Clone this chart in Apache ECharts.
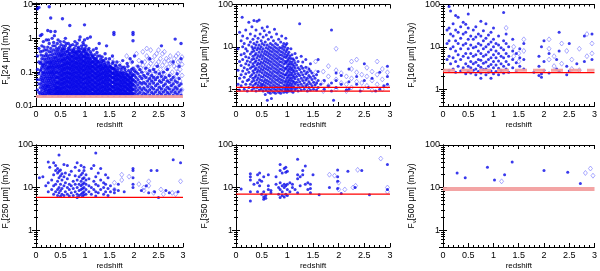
<!DOCTYPE html>
<html><head><meta charset="utf-8">
<script src="https://cdn.jsdelivr.net/npm/echarts@6/dist/echarts.min.js"></script>
<style>html,body{margin:0;padding:0;background:#fff}#c{width:600px;height:271px}</style>
</head><body><div id="c"></div>
<script>
// ---------- data (columns: first value = redshift, following values = flux in mJy) ----------
const bands = ['24', '100', '160', '250', '350', '500'];
const yMin = [0.01, 0.4, 0.4, 0.4, 0.4, 0.4];
const yMax = [11, 100, 100, 100, 100, 100];
const zRange = [0, 3];
const redLimits = [[], [0.9, 1.1], [2.45], [5.9], [7.0], []];
const pinkLimits = [[0.019], [], [2.8], [], [], [9.3]];

const f24Dots = [
[0.03,0.03,0.06,0.12,0.3,7.5],[0.06,0.025,0.045,0.09,0.2,0.5,8.2],[0.09,0.022,0.035,0.06,0.11,0.18,0.4,1.2],
[0.12,0.03,0.05,0.08,0.14,0.25,0.6,1.3],[0.15,0.021,0.04,0.065,0.1,0.17,0.3,0.8],[0.18,0.028,0.045,0.075,0.12,0.2,0.45],
[0.21,0.023,0.035,0.055,0.09,0.15,0.24,0.35,0.9],[0.24,0.03,0.042,0.065,0.1,0.13,0.19,0.3,0.55,1.7],
[0.27,0.022,0.033,0.05,0.075,0.11,0.16,0.22,0.4,0.7,8.6],[0.30,0.026,0.038,0.058,0.085,0.12,0.18,0.26,0.5,1.6,4.0],
[0.33,0.021,0.03,0.045,0.068,0.1,0.14,0.2,0.33,1.0],[0.36,0.025,0.036,0.052,0.078,0.11,0.16,0.24,0.45,0.75],
[0.39,0.022,0.029,0.041,0.06,0.088,0.13,0.19,0.28,0.6,1.6],[0.42,0.026,0.034,0.048,0.07,0.1,0.15,0.22,0.35,0.5],
[0.45,0.021,0.03,0.04,0.055,0.08,0.12,0.17,0.25,0.42,0.9],[0.48,0.024,0.033,0.046,0.064,0.092,0.13,0.19,0.3,0.55],
[0.51,0.021,0.028,0.038,0.052,0.073,0.1,0.14,0.2,0.28,0.4,0.65],[0.54,0.025,0.034,0.046,0.062,0.085,0.12,0.16,0.23,0.33,0.5,3.8],
[0.57,0.022,0.03,0.041,0.056,0.076,0.105,0.145,0.2,0.28,0.45,0.8],[0.60,0.026,0.036,0.05,0.068,0.093,0.13,0.18,0.25,0.38,0.6,1.0],
[0.63,0.021,0.029,0.04,0.055,0.075,0.1,0.14,0.19,0.27,0.42],[0.66,0.024,0.033,0.045,0.062,0.085,0.115,0.16,0.22,0.31,0.5,0.7],
[0.69,0.021,0.028,0.038,0.052,0.07,0.095,0.13,0.18,0.25,0.36,0.55,2.4],[0.72,0.025,0.034,0.046,0.063,0.086,0.12,0.16,0.22,0.3,0.45],
[0.75,0.022,0.03,0.041,0.056,0.077,0.105,0.145,0.2,0.28,0.4,0.65],[0.78,0.026,0.036,0.049,0.067,0.092,0.125,0.17,0.24,0.35,0.5],
[0.81,0.021,0.029,0.04,0.054,0.074,0.1,0.14,0.19,0.26,0.38,0.6],[0.84,0.024,0.033,0.045,0.061,0.083,0.115,0.155,0.21,0.3,0.42,0.7],
[0.87,0.022,0.03,0.041,0.056,0.076,0.105,0.14,0.19,0.27,0.4,0.55],[0.90,0.026,0.035,0.048,0.065,0.09,0.12,0.165,0.23,0.32,0.48,1.1],
[0.93,0.021,0.028,0.038,0.052,0.071,0.097,0.13,0.18,0.25,0.35,0.6],[0.96,0.024,0.032,0.044,0.06,0.082,0.11,0.15,0.21,0.29,0.42,0.75],
[0.99,0.021,0.027,0.036,0.049,0.066,0.09,0.12,0.165,0.22,0.3,0.45,0.9,2.5],[1.02,0.025,0.033,0.045,0.061,0.083,0.11,0.15,0.2,0.28,0.4,0.6],
[1.05,0.022,0.03,0.041,0.055,0.075,0.1,0.14,0.19,0.26,0.35,1.0],[1.08,0.026,0.035,0.048,0.065,0.088,0.12,0.16,0.22,0.32,0.5],
[1.11,0.021,0.029,0.039,0.053,0.072,0.098,0.13,0.18,0.25,0.4,1.1],[1.14,0.024,0.033,0.045,0.06,0.082,0.11,0.15,0.2,0.3],
[1.17,0.022,0.03,0.04,0.055,0.075,0.1,0.14,0.2,0.27,0.45],[1.20,0.025,0.034,0.046,0.063,0.085,0.115,0.16,0.22,0.33],
[1.23,0.021,0.028,0.038,0.052,0.07,0.095,0.13,0.18,0.26,0.5],[1.26,0.024,0.032,0.044,0.06,0.08,0.11,0.15,0.21,0.3],
[1.29,0.022,0.03,0.041,0.056,0.076,0.1,0.14,0.2,0.7],[1.32,0.026,0.035,0.047,0.064,0.087,0.12,0.16,0.24],
[1.35,0.021,0.028,0.038,0.052,0.07,0.095,0.13,0.18,0.28],[1.38,0.024,0.033,0.045,0.06,0.082,0.11,0.15,0.22],
[1.41,0.022,0.03,0.04,0.055,0.075,0.1,0.14,0.19,0.35],[1.44,0.025,0.034,0.046,0.063,0.085,0.115,0.16,0.6],
[1.47,0.021,0.029,0.039,0.053,0.072,0.098,0.13,0.2],[1.50,0.024,0.032,0.044,0.06,0.08,0.11,0.15,0.25],
[1.53,0.022,0.03,0.04,0.055,0.075,0.1,0.14],[1.56,0.026,0.036,0.05,0.068,0.09,0.13,0.18,0.3],
[1.59,0.021,0.028,0.038,0.052,0.07,0.095,0.13,1.3,1.5],[1.62,0.024,0.033,0.045,0.061,0.083,0.12,0.16],
[1.65,0.022,0.03,0.041,0.056,0.076,0.1,0.2],[1.68,0.025,0.034,0.046,0.063,0.085,0.13],
[1.71,0.021,0.029,0.04,0.054,0.074,0.1,0.16],[1.74,0.024,0.032,0.044,0.06,0.082,0.12],
[1.77,0.022,0.03,0.04,0.055,0.075,0.1,0.22],[1.80,0.026,0.035,0.048,0.065,0.09,0.14],
[1.83,0.021,0.028,0.038,0.052,0.07,0.1],[1.86,0.024,0.033,0.045,0.06,0.085,0.18],
[1.89,0.022,0.03,0.041,0.056,0.076,0.11],[1.92,0.025,0.034,0.046,0.063,0.09,0.25],
[1.95,0.021,0.029,0.039,0.053,0.072,0.12],[1.98,0.024,0.032,0.044,0.06,0.085,0.13,0.85,1.3,1.5],
[2.01,0.022,0.03,0.04,0.055,0.08,0.11,0.3],[2.04,0.026,0.035,0.05,0.07,0.1],
[2.08,0.022,0.03,0.042,0.06,0.09,0.15],[2.12,0.025,0.035,0.05,0.075,0.12],
[2.16,0.021,0.03,0.045,0.065,0.1,0.2],[2.20,0.024,0.034,0.05,0.08],
[2.24,0.022,0.03,0.045,0.07,0.13],[2.28,0.026,0.038,0.055,0.09],
[2.32,0.021,0.03,0.045,0.065,0.11,0.25],[2.36,0.025,0.036,0.055,0.08],
[2.40,0.022,0.032,0.048,0.07,0.12],[2.44,0.026,0.04,0.06,0.1],
[2.48,0.021,0.03,0.045,0.07,0.15],[2.52,0.025,0.036,0.055,0.09],
[2.56,0.022,0.032,0.05,0.075,0.6],[2.60,0.026,0.04,0.06,0.1],
[2.64,0.021,0.03,0.045,0.07],[2.68,0.025,0.036,0.055,0.12],
[2.72,0.022,0.032,0.05,0.08],[2.76,0.026,0.04,0.06],
[2.80,0.021,0.03,0.045,0.07,0.2],[2.84,0.025,0.036,0.055,0.95],
[2.88,0.022,0.032,0.05,0.09],[2.92,0.026,0.04,0.065,0.15],[2.96,0.021,0.03,0.045,0.25,0.7]
];
const f24DotsMid = [
[0.105,0.026,0.043,0.07,0.12,0.2,0.32],[0.135,0.023,0.036,0.058,0.095,0.16,0.42],
[0.165,0.025,0.033,0.052,0.085,0.14,0.24,0.55],[0.195,0.021,0.031,0.04,0.065,0.1,0.17,0.3],
[0.225,0.026,0.038,0.048,0.075,0.12,0.2,0.45],[0.255,0.024,0.028,0.038,0.057,0.088,0.14,0.26,0.9],
[0.285,0.025,0.03,0.043,0.065,0.095,0.14,0.19,0.32],[0.315,0.023,0.033,0.05,0.072,0.1,0.15,0.22,0.4],
[0.345,0.027,0.04,0.058,0.085,0.12,0.175,0.28,0.6],[0.375,0.022,0.031,0.045,0.066,0.095,0.14,0.21,0.35,1.2],
[0.405,0.024,0.032,0.037,0.052,0.075,0.11,0.17,0.26,0.42],[0.435,0.023,0.027,0.035,0.047,0.067,0.095,0.14,0.2,0.3,0.7],
[0.465,0.022,0.027,0.036,0.05,0.07,0.1,0.15,0.22,0.36,0.48],[0.495,0.026,0.031,0.042,0.058,0.082,0.115,0.16,0.24,0.34,0.8],
[0.525,0.023,0.032,0.044,0.06,0.08,0.11,0.155,0.22,0.31,0.45],[0.555,0.022,0.027,0.037,0.05,0.068,0.095,0.13,0.18,0.25,0.38,0.6],
[0.585,0.025,0.034,0.047,0.064,0.088,0.12,0.165,0.23,0.33,0.5],[0.615,0.023,0.031,0.043,0.059,0.082,0.115,0.16,0.22,0.32,0.7],
[0.645,0.022,0.027,0.038,0.052,0.071,0.098,0.135,0.19,0.27,0.4],[0.675,0.026,0.036,0.05,0.068,0.093,0.13,0.18,0.25,0.35,0.45],
[0.705,0.023,0.031,0.043,0.059,0.081,0.11,0.15,0.21,0.3,0.62],[0.735,0.022,0.028,0.038,0.052,0.071,0.097,0.135,0.185,0.26,0.38],
[0.765,0.025,0.034,0.046,0.063,0.086,0.118,0.16,0.22,0.31,0.45],[0.795,0.023,0.031,0.042,0.058,0.079,0.108,0.148,0.2,0.29,0.4,0.8],
[0.825,0.022,0.027,0.037,0.05,0.069,0.095,0.13,0.18,0.25,0.35],[0.855,0.026,0.036,0.049,0.067,0.092,0.125,0.17,0.24,0.34,0.5],
[0.885,0.023,0.031,0.043,0.059,0.08,0.11,0.15,0.21,0.29,0.42,0.9],[0.915,0.022,0.028,0.038,0.052,0.071,0.097,0.135,0.185,0.26,0.38],
[0.945,0.025,0.034,0.046,0.063,0.086,0.118,0.16,0.22,0.31,0.5],[0.975,0.023,0.031,0.042,0.058,0.079,0.108,0.148,0.2,0.28,0.4,0.65],
[1.005,0.022,0.028,0.037,0.05,0.069,0.095,0.13,0.18,0.25,0.35,0.5],[1.035,0.026,0.036,0.049,0.067,0.092,0.125,0.17,0.24,0.34],
[1.065,0.023,0.031,0.043,0.059,0.08,0.11,0.15,0.21,0.29,0.45],[1.095,0.022,0.028,0.038,0.052,0.071,0.097,0.135,0.185,0.26],
[1.125,0.025,0.034,0.046,0.063,0.086,0.118,0.16,0.22,0.35],[1.155,0.023,0.031,0.042,0.058,0.079,0.108,0.148,0.2,0.3],
[1.185,0.022,0.028,0.037,0.05,0.069,0.095,0.13,0.18,0.25],[1.215,0.026,0.036,0.049,0.067,0.092,0.125,0.17,0.24],
[1.245,0.023,0.031,0.043,0.059,0.08,0.11,0.15,0.21,0.38],[1.275,0.022,0.028,0.038,0.052,0.071,0.097,0.135,0.185],
[1.305,0.025,0.034,0.046,0.063,0.086,0.118,0.16,0.3],[1.335,0.023,0.031,0.042,0.058,0.079,0.108,0.148,0.2],
[1.365,0.022,0.028,0.037,0.05,0.069,0.095,0.13,0.22],[1.395,0.026,0.036,0.049,0.067,0.092,0.125,0.17],
[1.425,0.023,0.031,0.043,0.059,0.08,0.11,0.15,0.25],[1.455,0.022,0.028,0.038,0.052,0.071,0.097,0.135],
[1.485,0.025,0.034,0.046,0.063,0.086,0.118,0.18],[1.515,0.023,0.031,0.042,0.058,0.079,0.108,0.15],
[1.545,0.022,0.028,0.037,0.05,0.069,0.095,0.13],[1.575,0.026,0.036,0.049,0.067,0.092,0.125,0.2],
[1.605,0.023,0.031,0.043,0.059,0.08,0.11],[1.635,0.022,0.028,0.038,0.052,0.071,0.097,0.15],
[1.665,0.025,0.034,0.046,0.063,0.086,0.11],[1.695,0.023,0.031,0.042,0.058,0.079],
[1.725,0.022,0.028,0.037,0.05,0.069,0.095],[1.755,0.026,0.036,0.049,0.067,0.092,0.14],
[1.785,0.023,0.031,0.043,0.059,0.08],[1.815,0.022,0.028,0.038,0.052,0.071,0.12],
[1.845,0.025,0.034,0.046,0.063,0.086],[1.875,0.023,0.031,0.042,0.058,0.079,0.15],
[1.905,0.022,0.028,0.037,0.05,0.069],[1.935,0.026,0.036,0.049,0.067,0.1],[1.965,0.023,0.031,0.043,0.059,0.08,0.2]
];
const f24Open = [
[1.25,0.03,0.08,0.2],[1.4,0.025,0.06,0.15],[1.55,0.035,0.1,0.25],[1.7,0.028,0.07,0.18],[1.85,0.04,0.12,0.3],
[1.95,0.03,0.09,0.2],[2.05,0.025,0.06,0.14,0.35],[2.1,0.04,0.1,0.22],[2.18,0.03,0.075,0.16,0.4],
[2.26,0.025,0.06,0.12,0.3,0.5],[2.34,0.035,0.085,0.18,0.45],[2.42,0.028,0.065,0.14,0.3],[2.5,0.04,0.1,0.2,0.45],
[2.58,0.03,0.075,0.16,0.35],[2.66,0.025,0.06,0.13,0.25],[2.74,0.035,0.085,0.18,0.3],[2.82,0.028,0.07,0.15,0.25],
[2.9,0.04,0.1,0.2,0.35],[2.98,0.03,0.08,0.17,0.28],
[2.02,0.045,0.11],[2.14,0.028,0.055,0.13],[2.22,0.04,0.09,0.2],[2.3,0.03,0.07,0.15,0.25],[2.38,0.022,0.05,0.11,0.22],
[2.46,0.033,0.075,0.17,0.35],[2.54,0.025,0.055,0.12,0.25],[2.62,0.038,0.09,0.2,0.4],[2.7,0.028,0.065,0.14,0.22],
[2.78,0.045,0.1,0.19],[2.86,0.032,0.075,0.13,0.3],[2.94,0.024,0.055,0.12,0.22]
];
const f100Dots = [
[0.04,1.3,2.8,9],[0.07,0.95,1.8,4.5,22],[0.1,1.2,2.2,3.6,6.5,14],[0.12,50],[0.13,1.5,2.7,5,10,18],
[0.16,1.0,1.9,3.2,7,12],[0.19,1.3,2.3,4,5.8,9,25],[0.22,0.9,1.6,2.9,4.6,8,16],[0.25,1.1,1.7,2.5,3.7,5.5,11,38],
[0.28,1.3,2,3.1,4.4,6.8,13,20],[0.31,0.95,1.5,2.2,3.4,5,7.5,10,30],[0.33,1.2,1.8,2.7,4,6,9,15],
[0.35,1.05,1.6,2.4,3.5,5.2,8,12,42],[0.37,1.3,1.9,2.9,4.3,6.4,9.5,18],[0.39,0.9,1.4,2.1,3.1,4.7,7,11,25],
[0.41,1.1,1.65,2.5,3.7,5.5,8.5,13,40],[0.43,1.25,1.85,2.8,4.1,6.2,9.5,16],[0.45,0.95,1.45,2.2,3.3,4.9,7.4,11,43],
[0.47,1.15,1.7,2.6,3.9,5.8,8.8,20],[0.49,1.0,1.35,2,3,4.4,6.6,10,14],[0.51,1.2,1.6,2.4,3.5,5.2,7.8,12,28],
[0.53,0.9,1.3,1.9,2.8,4.1,6,9,17],[0.55,1.05,1.5,2.2,3.2,4.7,7,11,24],[0.57,0.75,1.2,1.7,2.5,3.7,5.4,8,13],
[0.59,0.95,1.4,2.05,3,4.4,6.5,9.5,19],[0.61,0.55,1.1,1.6,2.35,3.45,5,7.4,11,30],[0.63,0.85,1.3,1.9,2.8,4.1,6,8.8,15],
[0.65,1.0,1.5,2.2,3.2,4.7,6.9,10,22],[0.67,0.8,1.2,1.75,2.55,3.75,5.5,8,12],[0.69,0.6,0.95,1.4,2.05,3,4.4,6.4,9.4,17],
[0.71,1.1,1.6,2.35,3.45,5.1,7.5,11],[0.73,0.85,1.25,1.85,2.7,4,5.9,8.7,14],[0.75,1.0,1.45,2.1,3.1,4.6,6.8,10,26],
[0.77,0.8,1.15,1.7,2.5,3.65,5.4,7.9,12],[0.79,0.95,1.35,2,2.9,4.25,6.2,9.2,20],[0.81,1.1,1.6,2.35,3.4,5,7.3,11],
[0.83,0.85,1.25,1.8,2.65,3.9,5.7,8.4,15],[0.85,1.0,1.45,2.1,3.05,4.5,6.6,9.7],[0.87,0.8,1.15,1.7,2.45,3.6,5.3,7.8,13],
[0.89,0.95,1.4,2,2.9,4.3,6.3,9.2,18],[0.91,1.1,1.6,2.3,3.4,5,7.3,10.5],[0.93,0.85,1.25,1.85,2.7,3.95,5.8,8.5,12],
[0.95,1.0,1.45,2.15,3.1,4.55,6.7,9.8],[0.97,0.9,1.2,1.6,2.2,3,4.1,5.6,7.7,11,16],[0.99,0.85,1.05,1.35,1.8,2.4,3.3,4.5,6.1,8.4,12],
[1.01,0.95,1.15,1.5,2,2.7,3.6,4.9,6.7,9.2],[1.03,0.9,1.25,1.65,2.2,2.95,4,5.4,7.4],[1.05,1.05,1.4,1.85,2.5,3.35,4.5,6.1],
[1.07,0.9,1.2,1.6,2.15,2.9,3.9,5.3,9],[1.09,1.0,1.35,1.8,2.4,3.2,4.4,6.5],[1.11,0.85,1.15,1.55,2.1,2.8,3.8,5.2],
[1.13,1.1,1.45,1.95,2.6,3.5,4.8],[1.15,0.95,1.3,1.75,2.3,3.1,4.2,7],[1.18,1.05,1.45,2,2.7,3.7,5.5],
[1.21,0.9,1.25,1.7,2.3,3.2,4.5],[1.24,1.1,1.5,2.1,2.9,35],[1.27,0.95,1.3,1.8,2.5,3.5,6],[1.3,1.15,1.6,2.2,3.1,4.4],
[1.33,1.0,1.4,1.9,2.7],[1.36,1.2,1.65,2.3,3.3,5],[1.39,0.9,1.3,1.8,2.5],[1.42,1.1,1.5,2.1,3],[1.45,0.95,1.35,1.9,2.7,4],
[1.48,1.2,1.7,2.4],[1.51,1.0,1.45,2.05],[1.54,1.25,1.8],[1.57,0.95,1.4,2.2],[1.6,1.1,1.6,2.6,5],[1.65,1.3],
[1.72,1.0,1.6],[1.8,1.2],[1.86,0.9,1.4,25],[1.9,0.55],[1.95,1.1,1.6,2.4],[2.05,1.3,2.1],[2.15,0.95],[2.2,1.0,1.5,3],
[2.35,1.3,2],[2.42,0.9],[2.5,1.6,4],[2.58,1.1],[2.65,1.8],[2.72,0.9],[2.8,1.0,2.5],[2.88,1.2],[2.95,1.3,2,3.5]
];
const f100Open = [
[1.2,1.3,2.2],[1.4,1.1,1.8,3],[1.55,1.4,2.5,4.5],[1.7,0.9,1.5,2.6],[1.8,1.2,2,3.5],[1.95,1.0,1.7,2.8,9],
[2.05,1.4,2.4],[2.15,0.9,1.3,2],[2.25,1.1,1.8,3,4.5],[2.35,1.5,2.5,5],[2.45,1.0,1.4,2.2],[2.55,1.2,2,3.2],
[2.65,0.95,1.6,2.6],[2.75,1.3,2.2,4.5],[2.85,1.0,1.7,3],[2.95,1.2,2.5]
];
const f160Dots = [
[0.08,5,12,25],[0.12,2.8,6,14,28,90],[0.15,4,9,20,70],[0.2,3,5.5,10,18,35],[0.25,2.5,4.5,8,14,25,55],
[0.3,3.5,6.5,12,22,50],[0.35,2.7,5,9,16,30],[0.4,3.2,6,11,20,38],[0.45,2.3,4,7,12,22,34],
[0.5,2.6,3.5,5.5,9,15,28,60],[0.55,2.4,3.2,4.5,7,11,18],[0.6,2.8,4,6,9.5,15,25],[0.65,2.2,3,4.3,6.5,10,17,30],
[0.7,2.6,3.6,5,8,12,20],[0.75,1.8,2.4,3.3,4.8,7,11,18,40],[0.8,2.9,4.1,6,9,14,24],[0.85,2.2,3,4.4,6.5,10,16,35],
[0.9,2.5,3.5,5,7.5,11.5,19],[0.95,1.8,2.7,3.8,5.5,8.5,13,22],[1.0,2.3,3.2,4.5,6.5,10,15,28],[1.05,2.6,3.7,5.5,8,12],
[1.1,2.2,3.1,4.6,7,11,18],[1.15,2.8,4,6,9.5],[1.2,2.4,3.5,5.5,8.5,14,65],[1.25,3,4.5,7,12,20],[1.3,2.5,3.8,6,10],
[1.38,3.2,5,8,15],[1.45,2.7,4.2,7],[1.52,3.5,5.5,9],[1.6,3,5,12],[1.8,2.5],[1.9,2.1,3.5,6],[1.95,1.9,2.3,10],
[2.0,2.8,4.5,14],[2.1,2.4,7],[2.25,3,5],[2.3,2.6,8,22],[2.45,2.2,3.5],[2.5,2.7,12],[2.65,4],[2.8,4.5,18],[2.95,5,20]
];
const f160Open = [
[1.25,28],[1.4,6,10],[1.5,4.5,7],[1.6,8,15],[2.1,5,9,15],[2.2,3.5,6],[2.35,4,12],[2.45,8],[2.55,3,5],
[2.7,2.8,9],[2.85,6,20],[2.95,7,12]
];
const f250Dots = [
[0.07,17],[0.14,18],[0.2,11],[0.25,8,13,40],[0.28,30],[0.32,9,15],[0.36,7,11,20,38],[0.4,8,12,25,33],
[0.44,6.5,9,14,22,28],[0.47,7.5,10,17,24,58],[0.5,6.2,8.5,12,19,26],[0.53,7,9.5,15,21],[0.57,6.5,11,18,35],
[0.6,8,13,22],[0.64,7,10,16,33],[0.68,6.3,9,12,20],[0.72,7.5,11,24],[0.76,6.5,9.5,14],[0.8,8,12,19,30],
[0.84,5.8,7,10,15,38],[0.88,6.5,8.5,12,18,25],[0.92,7,9,11,14,20,33],[0.95,6.2,7.5,9.5,12,16,22],
[0.98,6.8,8,10,13,17,25,30],[1.02,7,9,12,15,20],[1.08,8,11,16],[1.13,7,10,28],[1.18,9,14,33],
[1.22,6.3,8,12,18,65],[1.27,7.5,11,22],[1.32,9,15,28],[1.38,7,10,13],[1.42,8,12,20],[1.47,6.5,9.5,17],
[1.52,8,11],[1.6,7.5,9],[1.68,8.5,12],[1.8,8],[1.98,10,12,17,25,28],[2.15,8.5],[2.25,11],[2.3,7.5],
[2.35,25],[2.42,8],[2.47,25],[2.5,5.8],[2.65,8.5],[2.72,7.5],[2.8,45],[2.9,8],[2.95,38]
];
const f250Open = [
[1.6,9,13],[1.75,15,20],[1.9,18],[2.1,12],[2.2,8.5,10],[2.3,14,11],[2.4,7.5],[2.55,9],[2.6,7],[2.78,7.5],
[2.85,7],[2.95,14]
];
const f350Dots = [
[0.1,9.2],[0.28,4.8,8,15,18,21],[0.35,12],[0.42,8,13,20],[0.46,11,15,22],[0.5,7,14],[0.54,5.3,6,8,18],
[0.58,5.6,6.5],[0.63,9,11,20],[0.68,7.5,8.5],[0.78,12,18],[0.83,7,10],[0.86,5.8,9,13,25,35],[0.9,6.5,8,11,22],
[0.94,6,10,12,28],[0.97,7,11,23,30],[1.0,6.5,9,12,24],[1.05,8,13],[1.1,10,12],[1.15,9],[1.2,7.5,16,20,46],
[1.25,11,18],[1.3,20,25],[1.35,12,32],[1.4,9,13],[1.45,7.5,9.5,12],[1.5,20],[1.62,6.8],[1.82,10],
[1.98,9.5,14,18,26],[2.05,7.2],[2.18,24],[2.32,10],[2.45,25],[2.6,6.8],[2.95,9,35]
];
const f350Open = [
[1.82,20],[1.92,19],[2.0,13,9],[2.12,9],[2.28,10],[2.33,11],[2.37,26],[2.82,48],[2.95,8,10]
];
const f500Dots = [[0.28,22],[0.44,17],[0.88,30],[1.02,15],[1.22,20],[1.37,40],[2.0,25],[2.47,23],[2.72,12.5]];
const f500Open = [[1.16,14],[2.82,22],[2.92,28],[2.97,19]];

const dotCols = [f24Dots.concat(f24DotsMid), f100Dots, f160Dots, f250Dots, f350Dots, f500Dots];
const openCols = [f24Open, f100Open, f160Open, f250Open, f350Open, f500Open];

// ---------- build ----------
function expand(cols) {
  const out = [];
  cols.forEach(c => { for (let i = 1; i < c.length; i++) out.push([c[0], c[i]]); });
  return out;
}
const FONT = 'Liberation Sans';
const gridPos = [
  {left: 31, top: 2, width: 152, height: 104},
  {left: 236, top: 2, width: 154, height: 104},
  {left: 443, top: 2, width: 152, height: 104},
  {left: 31, top: 145, width: 152, height: 106},
  {left: 236, top: 145, width: 154, height: 106},
  {left: 443, top: 145, width: 152, height: 106}
];
const nameGaps = [25, 26, 26, 25, 26, 26];
const grids = [], xAxes = [], yAxes = [], series = [];
const axisLine = {show: true, lineStyle: {color: '#000', width: 1}};
function hLine(xi, yi, v, style, z) {
  return {
    type: 'line', xAxisIndex: xi, yAxisIndex: yi, data: [[zRange[0], v], [zRange[1], v]],
    symbol: 'none', silent: true, animation: false, z, lineStyle: style
  };
}
gridPos.forEach((g, i) => {
  grids.push(Object.assign({containLabel: false}, g));
  const xBase = {
    type: 'value', gridIndex: i, min: zRange[0], max: zRange[1], interval: 0.5,
    axisLine, splitLine: {show: false},
    axisTick: {inside: true, length: 4, lineStyle: {color: '#000'}},
    minorTick: {show: true, splitNumber: 5, length: 2, lineStyle: {color: '#000'}}
  };
  xAxes.push(Object.assign({}, xBase, {
    position: 'bottom',
    name: 'redshift', nameLocation: 'middle', nameGap: 15,
    nameTextStyle: {fontFamily: FONT, fontSize: 8, color: '#000'},
    axisLabel: {fontFamily: FONT, fontSize: 9, color: '#000', margin: 4}
  }));
  xAxes.push(Object.assign({}, xBase, {position: 'top', axisLabel: {show: false}}));
  const yBase = {
    type: 'log', logBase: 10, gridIndex: i, min: yMin[i], max: yMax[i], splitNumber: 3,
    axisLine, splitLine: {show: false},
    axisTick: {inside: true, length: 4, lineStyle: {color: '#000'}},
    minorTick: {show: true, splitNumber: 9, length: 2, lineStyle: {color: '#000'}}
  };
  yAxes.push(Object.assign({}, yBase, {
    position: 'left',
    name: '{t|F}{s|ν}{t|[' + bands[i] + ' μm] (mJy)}', nameLocation: 'middle', nameGap: nameGaps[i],
    nameTextStyle: {fontFamily: FONT, fontSize: 8.5, color: '#000',
      rich: {t: {fontFamily: FONT, fontSize: 8.5, color: '#000'},
             s: {fontFamily: FONT, fontSize: 6, color: '#000', padding: [5, 0, 0, 0]}}},
    axisLabel: {fontFamily: FONT, fontSize: 9, color: '#000', margin: 3, showMinLabel: yMin[i] === 0.01, showMaxLabel: yMax[i] === 100,
      formatter: v => String(+v.toPrecision(3))}
  }));
  yAxes.push(Object.assign({}, yBase, {position: 'right', axisLabel: {show: false}}));

  const xi = 2 * i, yi = 2 * i;
  series.push({
    type: 'scatter', xAxisIndex: xi, yAxisIndex: yi, data: expand(openCols[i]),
    symbol: 'diamond', symbolSize: [4, 5],
    itemStyle: {color: 'rgba(0,0,0,0)', borderColor: '#7a7aff', borderWidth: 0.8},
    silent: true, z: 2
  });
  series.push({
    type: 'scatter', xAxisIndex: xi, yAxisIndex: yi, data: expand(dotCols[i]),
    symbol: 'circle', symbolSize: i === 0 ? 3.4 : 3,
    itemStyle: {color: '#0808e8'}, silent: true, z: 3
  });
  pinkLimits[i].forEach(v => series.push(hLine(xi, yi, v,
    {color: '#f29a9a', width: i === 5 ? 4 : 3, type: i === 2 ? 'dashed' : 'solid', opacity: 0.9}, 4)));
  redLimits[i].forEach(v => series.push(hLine(xi, yi, v,
    {color: '#ff0000', width: 1.2, type: 'solid', opacity: 1}, 5)));
});

const chart = echarts.init(document.getElementById('c'), null, {renderer: 'canvas'});
chart.setOption({
  animation: false, backgroundColor: '#fff',
  grid: grids, xAxis: xAxes, yAxis: yAxes, series
});
</script></body></html>
